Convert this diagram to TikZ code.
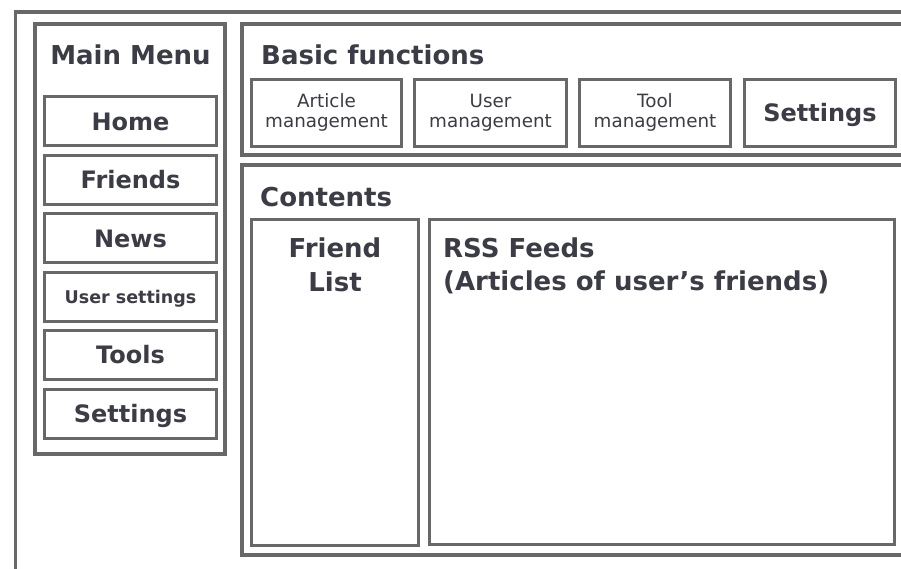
\documentclass[tikz,border=0pt]{standalone}
\usepackage{fontspec}
\setmainfont{DejaVu Sans}
\definecolor{ln}{RGB}{104,104,104}
\definecolor{tx}{RGB}{60,60,70}
\begin{document}
\begin{tikzpicture}[x=1pt,y=-1pt,
  frame/.style={draw=ln, line width=4pt, inner sep=0pt},
  outerframe/.style={draw=ln, line width=3.5pt, inner sep=0pt},
  box/.style={draw=ln, line width=3pt, inner sep=0pt},
  item/.style={box, minimum width=172pt, minimum height=49pt, text=tx,
    font=\bfseries\fontsize{24}{28}\selectfont, text height=17.5pt, text depth=0pt},
  smallitem/.style={item, font=\bfseries\fontsize{17.5}{20}\selectfont, text height=12.8pt},
  fitem/.style={box, minimum height=67pt},
  title/.style={text=tx, inner sep=0pt, font=\bfseries\fontsize{26}{30}\selectfont},
  small/.style={text=tx, inner sep=0pt, font=\fontsize{18.3}{20}\selectfont},
]
\useasboundingbox (0,0) rectangle (901,569);
\clip (0,0) rectangle (901,569);
\fill[white] (0,0) rectangle (901,569);

% outer frame
\node[outerframe, minimum width=915pt, minimum height=559pt] (outer) at (473,291.5) {};

% main menu
\node[frame, minimum width=190pt, minimum height=430pt] (menu) at (130,239) {};
\node[title, anchor=base] (menutitle) at (130.5,65) {Main Menu};
\node[item] (home) at (130.5,121.5) {Home};
\node[item] (friends) at (130.5,179.9) {Friends};
\node[item] (news) at (130.5,238.3) {News};
\node[smallitem] (usersettings) at (130.5,296.7) {User settings};
\node[item] (tools) at (130.5,355.1) {Tools};
\node[item] (settings) at (130.5,413.5) {Settings};

% basic functions
\node[frame, minimum width=688pt, minimum height=131pt] (basic) at (586,89.5) {};
\node[title, anchor=base west] (basictitle) at (261,65) {Basic functions};
\node[fitem, minimum width=150pt] (article) at (326.5,113) {};
\node[small, anchor=base] (articleA) at (326.5,108) {Article};
\node[small, anchor=base] (articleB) at (326.5,128) {management};
\node[fitem, minimum width=152pt] (user) at (490.5,113) {};
\node[small, anchor=base] (userA) at (490.5,108) {User};
\node[small, anchor=base] (userB) at (490.5,128) {management};
\node[fitem, minimum width=151pt] (tool) at (655,113) {};
\node[small, anchor=base] (toolA) at (655,108) {Tool};
\node[small, anchor=base] (toolB) at (655,128) {management};
\node[fitem, minimum width=151pt, text=tx, font=\bfseries\fontsize{24}{28}\selectfont,
  text height=17.5pt, text depth=0pt] (bsettings) at (820,113) {Settings};

% contents
\node[frame, minimum width=688pt, minimum height=390pt] (contents) at (586,360) {};
\node[title, anchor=base west] (contentstitle) at (260,207) {Contents};
\node[box, minimum width=167pt, minimum height=326pt] (friendlist) at (335,382.5) {};
\node[title, anchor=base] (friendA) at (335,258) {Friend};
\node[title, anchor=base] (friendB) at (335,291) {List};
\node[box, minimum width=465pt, minimum height=325pt] (rss) at (662,382) {};
\node[title, anchor=base west] (rssA) at (443,257) {RSS Feeds};
\node[title, anchor=base west] (rssB) at (443,290) {(Articles of user’s friends)};
\end{tikzpicture}
\end{document}
